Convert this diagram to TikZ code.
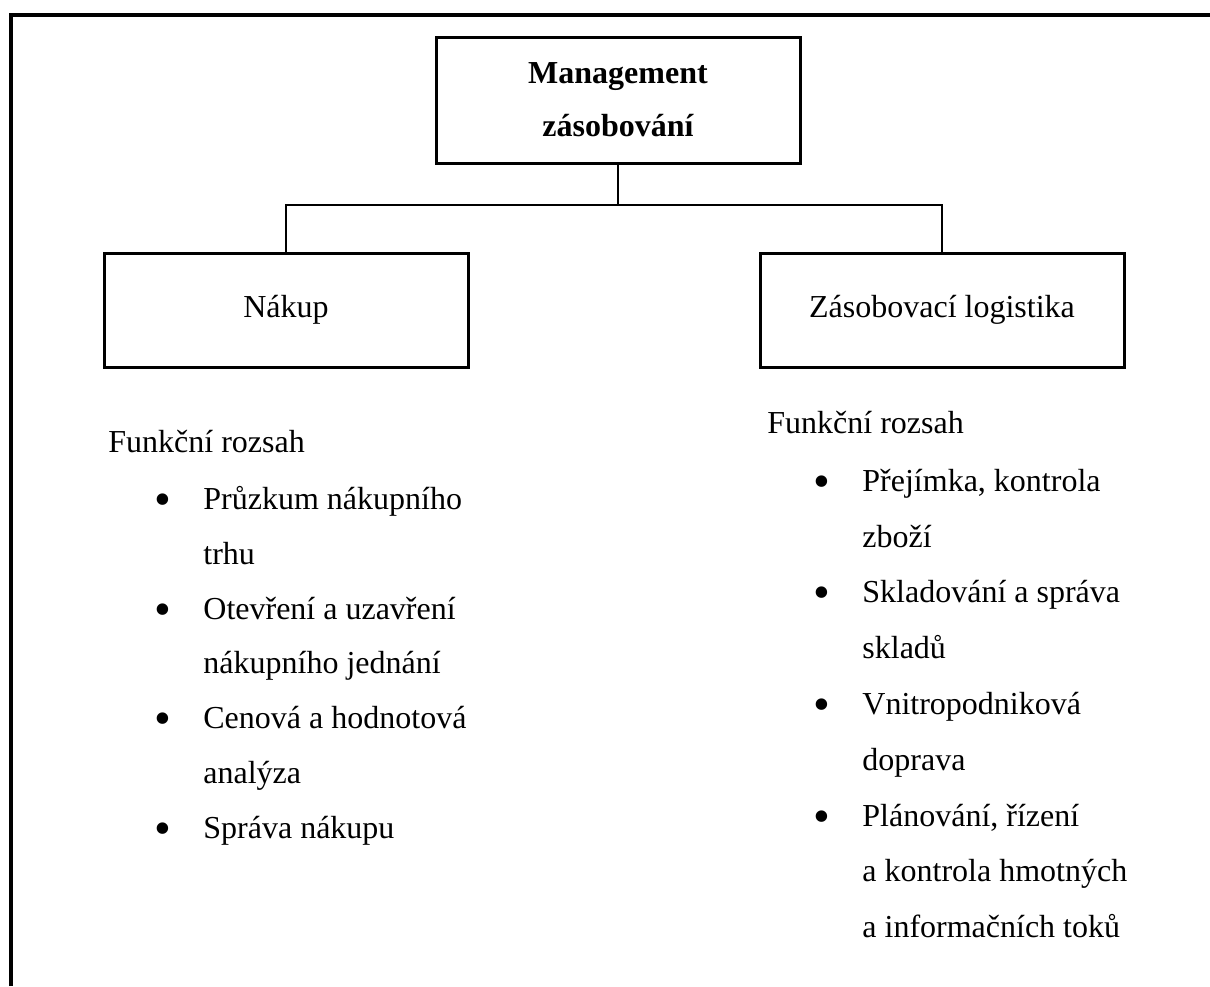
\documentclass[tikz,border=0pt]{standalone}
\usepackage{fontspec}
\setmainfont{Liberation Serif}
\usetikzlibrary{positioning}

\tikzset{
  box/.style={draw, line width=1.5pt, minimum width=182pt, minimum height=57pt,
    inner sep=0pt, font=\fontsize{16}{19}\selectfont},
  txt/.style={anchor=base west, inner sep=0pt, font=\fontsize{16}{19}\selectfont},
  blt/.style={anchor=base, inner sep=0pt, yshift=-3.2pt, font=\fontsize{24}{26}\selectfont},
  link/.style={line width=1pt}
}

\begin{document}
\begin{tikzpicture}[x=0.5pt,y=-0.5pt]
    \useasboundingbox (0,0) rectangle (1210,986);
    % frame
    \draw[line width=2pt] (10.5,986) -- (10.5,14.5) -- (1210,14.5);

    % boxes
    \node[box, minimum height=63pt, align=center, font=\fontsize{16}{26.5}\selectfont\bfseries]
        (top) at (618,100) {Management\\zásobování};
    \node[box] (nakup) at (286,310) {Nákup};
    \node[box] (logist) at (942,310) {Zásobovací logistika};

    \coordinate (bus) at (618,205);
    \draw[link] (top.south) -- (bus);
    \draw[link] (nakup.north) |- (bus) -| (logist.north);

    % left column
    \node[txt] (lh) at (108,452) {Funkční rozsah};
    \node[blt] (lb1) at (163,509) {•};
    \node[txt] (l1) at (203,509) {Průzkum nákupního};
    \node[txt] (l1b) at (203,564) {trhu};
    \node[blt] (lb2) at (163,619) {•};
    \node[txt] (l2) at (203,619) {Otevření a uzavření};
    \node[txt] (l2b) at (203,673) {nákupního jednání};
    \node[blt] (lb3) at (163,728) {•};
    \node[txt] (l3) at (203,728) {Cenová a hodnotová};
    \node[txt] (l3b) at (203,783) {analýza};
    \node[blt] (lb4) at (163,838) {•};
    \node[txt] (l4) at (203,838) {Správa nákupu};

    % right column
    \node[txt] (rh) at (767,433) {Funkční rozsah};
    \node[blt] (rb1) at (822,491) {•};
    \node[txt] (r1) at (862,491) {Přejímka, kontrola};
    \node[txt] (r1b) at (862,547) {zboží};
    \node[blt] (rb2) at (822,602) {•};
    \node[txt] (r2) at (862,602) {Skladování a správa};
    \node[txt] (r2b) at (862,658) {skladů};
    \node[blt] (rb3) at (822,714) {•};
    \node[txt] (r3) at (862,714) {Vnitropodniková};
    \node[txt] (r3b) at (862,770) {doprava};
    \node[blt] (rb4) at (822,826) {•};
    \node[txt] (r4) at (862,826) {Plánování, řízení};
    \node[txt] (r4b) at (862,881) {a kontrola hmotných};
    \node[txt] (r4c) at (862,937) {a informačních toků};
\end{tikzpicture}
\end{document}
